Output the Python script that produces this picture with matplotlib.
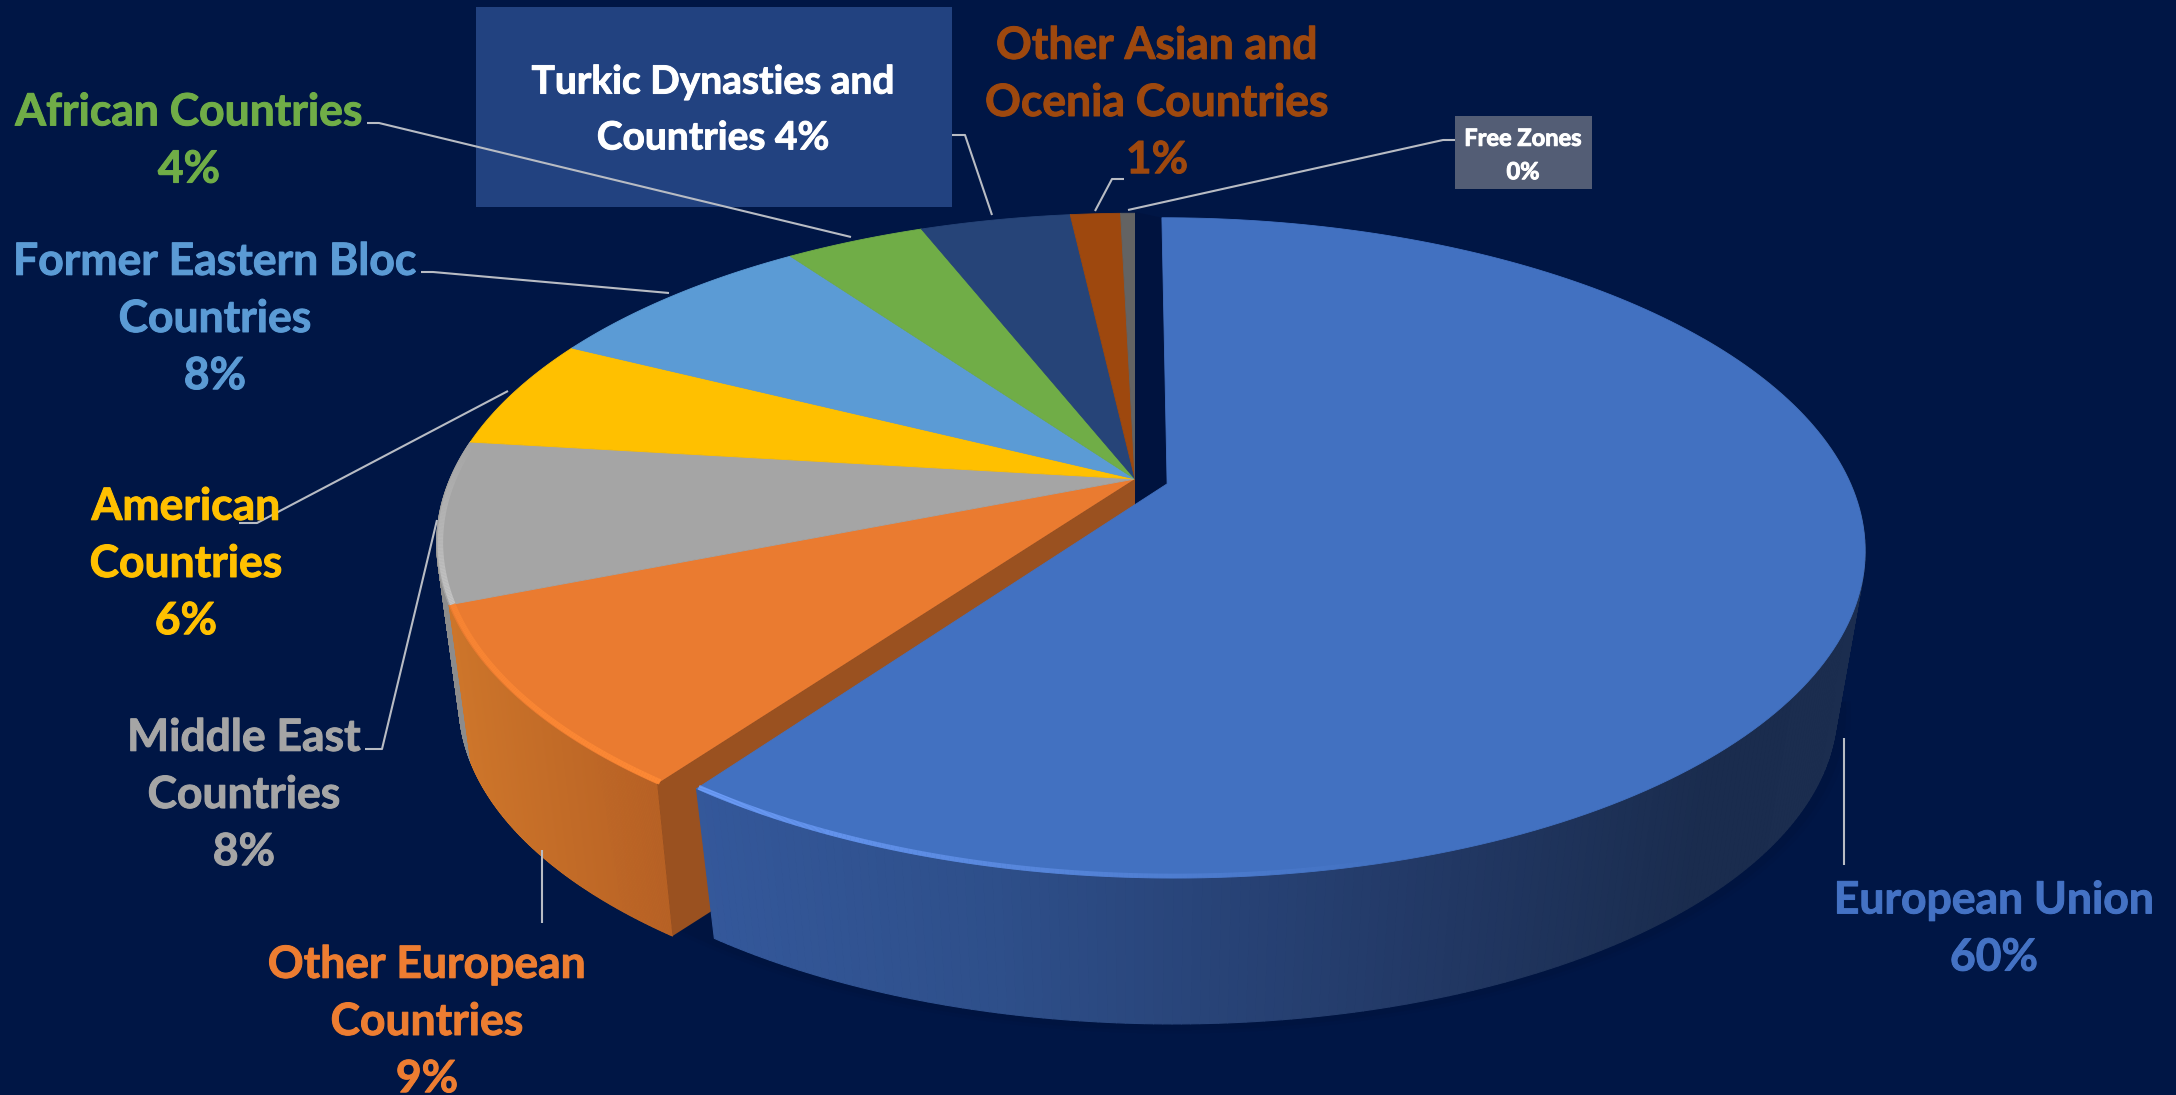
import numpy as np
import matplotlib
matplotlib.use('Agg')
import matplotlib.pyplot as plt
import matplotlib.patheffects as pe
from matplotlib.collections import PolyCollection, LineCollection
from matplotlib.colors import to_rgb
from matplotlib.patches import Polygon, Rectangle

# Slices, clockwise from 12 o'clock
labels = ['European Union\n60%', 'Other European\nCountries\n9%', 'Middle East\nCountries\n8%',
          'American\nCountries\n6%', 'Former Eastern Bloc\nCountries\n8%', 'African Countries\n4%',
          'Turkic Dynasties and\nCountries 4%', 'Other Asian and\nOcenia Countries\n1%', 'Free Zones\n0%']
values = [60.0, 9.0, 7.9, 5.5, 7.7, 3.9, 4.2, 1.4, 0.4]
colors = ['#4271c1', '#ea7b30', '#a5a5a5', '#ffc000', '#5b9bd5', '#70ad47', '#264478', '#9e480e', '#636363']
label_colors = ['#4472c4', '#ed7d31', '#a5a5a5', '#ffc000', '#5b9bd5', '#70ad47', 'white', '#9e480e', 'white']
label_pos = [(1994, 929), (427, 1022), (244, 795), (186, 564), (215, 319), (189, 141), (713, 110), (1157, 103), (1523, 155)]
label_size = [32, 32, 32, 32, 32, 32, 28, 32, 17]
label_gap = [1.52, 1.52, 1.52, 1.52, 1.52, 1.52, 1.72, 1.52, 1.55]

# Leader lines
leaders = [[(1844, 738), (1844, 865)],
           [(542, 850), (542, 923)],
           [(365, 749), (382, 749), (437, 520)],
           [(239, 523), (257, 523), (508, 391)],
           [(421, 272), (433, 272), (669, 293)],
           [(367, 123), (379, 123), (851, 237)],
           [(952, 135), (965, 135), (992, 215)],
           [(1124, 179), (1112, 179), (1095, 211)],
           [(1455, 140), (1443, 140), (1128, 210)]]

bg = '#001645'
# Perspective of the pie, in picture pixels
apex_x, apex_y = 1135, 479
scale_x, scale_y, persp = 687, 318.4, 0.195
wall_drop, wall_scale = 162, 0.968
explode = 0.049

fig = plt.figure(figsize=(21.76, 10.95), dpi=100, facecolor=bg)
ax = fig.add_axes([0, 0, 1, 1])
ax.set_xlim(0, 2176)
ax.set_ylim(1095, 0)
ax.axis('off')
plt.rcParams['font.family'] = ['Lato', 'DejaVu Sans']


def project(th, off=(0, 0), r=1.0, low=False):
    u = r * np.sin(np.radians(th)) + off[0]
    v = r * np.cos(np.radians(th)) + off[1]
    w = 1 + persp * v
    x = apex_x + scale_x * u / w
    y = apex_y - scale_y * v / w
    if low:
        x = apex_x + (x - apex_x) * wall_scale
        y = apex_y + wall_drop + (y - apex_y) * wall_scale
    return x, y


def draw_wall(t0, t1, off, r, r_low, stop_x, stop_c):
    th = np.linspace(t0, t1, 240)
    xt, yt = project(th, off, r)
    xb, yb = project(th, off, r_low, low=True)
    rgb = np.array([to_rgb(c) for c in stop_c])
    polys, cols = [], []
    for i in range(len(th) - 1):
        polys.append([(xt[i], yt[i]), (xt[i + 1], yt[i + 1]), (xb[i + 1], yb[i + 1]), (xb[i], yb[i])])
        xm = (xt[i] + xb[i]) / 2
        cols.append([np.interp(xm, stop_x, rgb[:, j]) for j in range(3)])
    ax.add_collection(PolyCollection(polys, facecolors=cols, edgecolors=cols, linewidths=0.8))


def draw_bevel(t0, t1, off, r, color, lw, a0, a1):
    th = np.linspace(t0, t1, 120)
    x, y = project(th, off, r)
    segs = [[(x[i], y[i]), (x[i + 1], y[i + 1])] for i in range(len(th) - 1)]
    rgb = to_rgb(color)
    alphas = np.linspace(a0, a1, len(segs))
    ax.add_collection(LineCollection(segs, colors=[(*rgb, a) for a in alphas], linewidths=lw))


def draw_top(t0, t1, off, r, color):
    th = np.linspace(t0, t1, 200)
    x, y = project(th, off, r)
    cx, cy = project(0, off, 0)
    pts = [(cx, cy)] + list(zip(x, y))
    ax.add_patch(Polygon(pts, closed=True, facecolor=color, edgecolor=color, linewidth=0.6))


edges = np.concatenate([[0], np.cumsum(values)]) * 360 / sum(values)
eu_off = (explode * np.sin(np.radians(edges[1] / 2)), explode * np.cos(np.radians(edges[1] / 2)))
eu_r = 0.992

# Soft shadow under the front of the pie
th = np.linspace(100, 250, 200)
for grow, a in [(1.005, 0.06), (0.998, 0.10)]:
    xs, ys = project(th, eu_off, grow, low=True)
    ax.fill(xs, ys, color='#000c2c', alpha=a, linewidth=0)

# Walls of the slices left in place
draw_wall(edges[2], edges[3], (0, 0), 0.997, 0.997, [440, 480], ['#8c8c8c', '#8c8c8c'])
draw_wall(edges[1], edges[2], (0, 0), 0.997, 0.997, [460, 680], ['#cd752a', '#b66024'])

for i in range(1, len(values)):
    draw_top(edges[i], edges[i + 1], (0, 0), 0.997, colors[i])

# Bevels on the rim
draw_bevel(edges[2], edges[3], (0, 0), 0.992, '#c8c8c8', 4, 0.9, 0.0)
draw_bevel(edges[1], edges[2], (0, 0), 0.992, '#ff8a35', 4, 0.9, 0.6)

# Cut face of the orange slice
ox, oy = project(edges[1], r=0.997)
oxb, oyb = project(edges[1], r=0.997, low=True)
ax.add_patch(Polygon([(apex_x, apex_y), (ox, oy), (oxb, oyb), (apex_x, apex_y + wall_drop)],
                     closed=True, facecolor='#9a5120', edgecolor='none'))

# Gap left by the exploded slice
gx0, gy0 = project(0, eu_off, eu_r)
gx1, gy1 = project(0, eu_off, 0)
ax.add_patch(Polygon([(apex_x, 212), (gx0, gy0), (gx1, gy1), (apex_x, 503)],
                     closed=True, facecolor='#00133f', edgecolor='none'))

# Exploded slice, wall only where it can show
draw_wall(60, edges[1], eu_off, eu_r, 0.985, [700, 1000, 1400, 1700, 1860],
          ['#34589b', '#2e4f8a', '#233a68', '#1a2c4e', '#1b2d4f'])
draw_top(edges[0], edges[1], eu_off, eu_r, colors[0])
draw_bevel(edges[1], 205, eu_off, eu_r - 0.004, '#72a2ff', 3.5, 0.95, 0.7)
draw_bevel(205, 165, eu_off, eu_r - 0.004, '#72a2ff', 3.5, 0.7, 0.0)

# Boxes behind two of the labels
ax.add_patch(Rectangle((476, 7), 476, 200, facecolor='#224280', edgecolor='none'))
ax.add_patch(Rectangle((1455, 116), 137, 73, facecolor='#535d75', edgecolor='none'))

for pts in leaders:
    ax.plot([p[0] for p in pts], [p[1] for p in pts], color='#b8bcc4', lw=1.5, solid_capstyle='butt')

for txt, pos, c, fs, gap in zip(labels, label_pos, label_colors, label_size, label_gap):
    t = ax.text(pos[0], pos[1], txt, color=c, fontsize=fs, fontweight='bold', ha='center', va='center',
                linespacing=gap, multialignment='center')
    t.set_path_effects([pe.withStroke(linewidth=0.7, foreground=c)])

fig.savefig('out.png', dpi=100, facecolor=bg)
